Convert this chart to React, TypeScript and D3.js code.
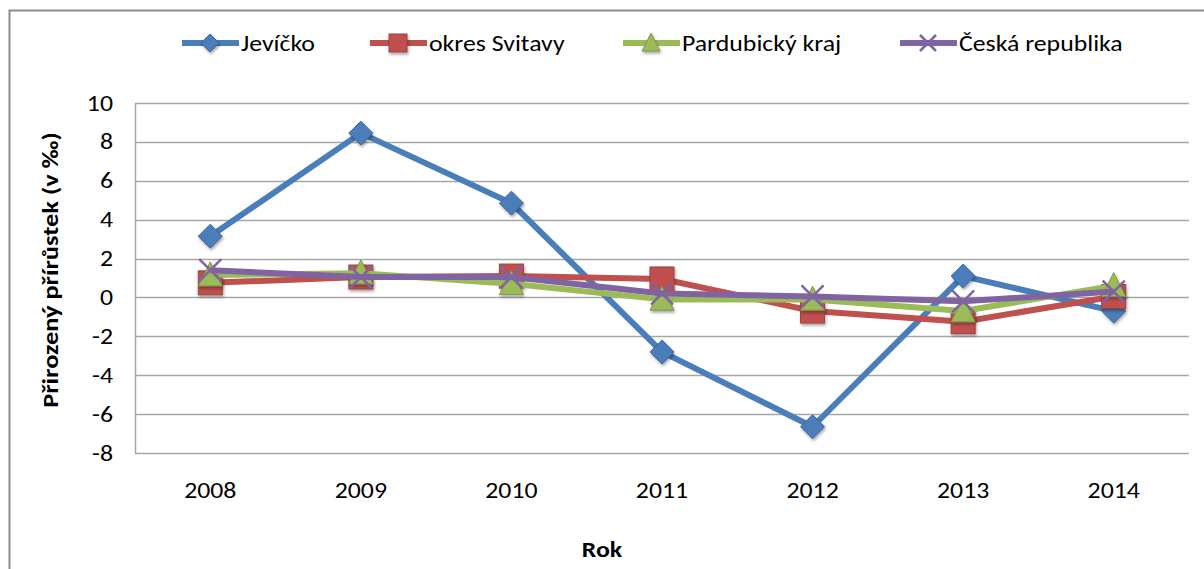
import { useEffect, useRef } from "react";
import * as d3 from "d3";

const years = ["2008", "2009", "2010", "2011", "2012", "2013", "2014"];
const jevicko = [3.15, 8.45, 4.85, -2.8, -6.65, 1.1, -0.7];
const svitavy = [0.75, 1.05, 1.1, 0.95, -0.7, -1.25, 0.05];
const pardubicky = [1.15, 1.25, 0.7, -0.1, -0.1, -0.7, 0.6];
const cesko = [1.4, 1.05, 1.05, 0.2, 0.05, -0.2, 0.3];
const yTicks = [10, 8, 6, 4, 2, 0, -2, -4, -6, -8];

const series = [
    { name: "Jevíčko", values: jevicko, color: "#4A7EBB", marker: "diamond" },
    { name: "okres Svitavy", values: svitavy, color: "#C0504D", marker: "square" },
    { name: "Pardubický kraj", values: pardubicky, color: "#9BBB59", marker: "triangle" },
    { name: "Česká republika", values: cesko, color: "#8064A2", marker: "x" },
];

const font = "Carlito, 'Liberation Sans Narrow', 'Open Sans', sans-serif";
const stretch = 1.2; // the reference text is rendered a bit wide

export default function App() {
    const ref = useRef<SVGSVGElement>(null);

    useEffect(() => {
        const width = 1204;
        const height = 569;
        const svg = d3.select(ref.current)
            .attr("width", width)
            .attr("height", height)
            .style("display", "block")
            .style("position", "absolute")
            .style("left", "0px")
            .style("top", "0px");

        svg.selectAll("*").remove();

        const defs = svg.append("defs");
        const f = defs.append("filter").attr("id", "shadow")
            .attr("x", "-50%").attr("y", "-50%").attr("width", "200%").attr("height", "200%");
        f.append("feDropShadow").attr("dx", 1).attr("dy", 2).attr("stdDeviation", 1.5)
            .attr("flood-color", "#000").attr("flood-opacity", 0.35);

        const label = (parent: any, tx: number, ty: number, txt: string, opts: { anchor?: string, bold?: boolean, size?: number, rotate?: number, dy?: string } = {}) =>
            parent.append("text")
                .attr("transform", `translate(${tx},${ty})${opts.rotate ? ` rotate(${opts.rotate})` : ""} scale(${stretch},1)`)
                .attr("text-anchor", opts.anchor || "start")
                .attr("dy", opts.dy || null)
                .attr("font-family", font)
                .attr("font-size", opts.size || 21.5)
                .attr("font-weight", opts.bold ? "bold" : null)
                .attr("fill", "#000")
                .text(txt);

        // chart frame
        svg.append("path")
            .attr("d", "M9.5,569 L9.5,10.5 L1204,10.5")
            .attr("fill", "none")
            .attr("stroke", "#8c8c8c")
            .attr("stroke-width", 2);

        const left = 135, right = 1189, top = 103, bottom = 453;

        const x = d3.scaleBand().domain(years).range([left, right]);
        const y = d3.scaleLinear().domain([-8, 10]).range([bottom, top]);

        // gridlines
        svg.append("g").selectAll("line")
            .data(yTicks)
            .join("line")
            .attr("x1", left)
            .attr("x2", right)
            .attr("y1", d => Math.round(y(d)) + 0.5)
            .attr("y2", d => Math.round(y(d)) + 0.5)
            .attr("stroke", "#a6a6a6")
            .attr("stroke-width", 1.5);

        // y axis line
        svg.append("line")
            .attr("x1", left + 0.5).attr("x2", left + 0.5)
            .attr("y1", top).attr("y2", bottom)
            .attr("stroke", "#a6a6a6").attr("stroke-width", 1.5);

        const yLab = svg.append("g");
        yTicks.forEach(t => label(yLab, 113, y(t), String(t), { anchor: "end", dy: "0.35em" }));

        const xLab = svg.append("g");
        years.forEach(yr => label(xLab, x(yr)! + x.bandwidth() / 2, 498, yr, { anchor: "middle" }));

        label(svg, 602, 557, "Rok", { anchor: "middle", bold: true });
        label(svg, 58, 270, "Přirozený přírůstek (v ‰)", { anchor: "middle", bold: true, rotate: -90, size: 22 });

        const line = d3.line<number>()
            .x((_, i) => x(years[i])! + x.bandwidth() / 2)
            .y(d => y(d));

        const drawMarker = (g: any, type: string, color: string, cx: number, cy: number, s: number) => {
            const dark = d3.color(color)!.darker(0.6).toString();
            if (type === "diamond") {
                g.append("path")
                    .attr("d", `M${cx},${cy - s} L${cx + s},${cy} L${cx},${cy + s} L${cx - s},${cy} Z`)
                    .attr("fill", color).attr("stroke", dark).attr("stroke-width", 1)
                    .attr("filter", "url(#shadow)");
            } else if (type === "square") {
                g.append("rect")
                    .attr("x", cx - s).attr("y", cy - s)
                    .attr("width", 2 * s).attr("height", 2 * s)
                    .attr("fill", color).attr("stroke", dark).attr("stroke-width", 1)
                    .attr("filter", "url(#shadow)");
            } else if (type === "triangle") {
                g.append("path")
                    .attr("d", `M${cx},${cy - s * 1.1} L${cx + s},${cy + s * 0.9} L${cx - s},${cy + s * 0.9} Z`)
                    .attr("fill", color).attr("stroke", dark).attr("stroke-width", 1)
                    .attr("filter", "url(#shadow)");
            } else {
                g.append("path")
                    .attr("d", `M${cx - s},${cy - s} L${cx + s},${cy + s} M${cx - s},${cy + s} L${cx + s},${cy - s}`)
                    .attr("stroke", color).attr("stroke-width", 2.5)
                    .attr("fill", "none");
            }
        };

        const sizes: Record<string, number> = { diamond: 12, square: 12, triangle: 12, x: 11 };

        series.forEach(s => {
            const g = svg.append("g");
            g.append("path")
                .datum(s.values)
                .attr("d", line)
                .attr("fill", "none")
                .attr("stroke", s.color)
                .attr("stroke-width", 6)
                .attr("stroke-linejoin", "round");
            s.values.forEach((v, i) => {
                drawMarker(g, s.marker, s.color, x(years[i])! + x.bandwidth() / 2, y(v), sizes[s.marker]);
            });
        });

        // legend
        const legendX = [182, 370, 623, 900];
        series.forEach((s, i) => {
            const g = svg.append("g").attr("transform", `translate(${legendX[i]},43)`);
            g.append("line")
                .attr("x1", 0).attr("x2", 57)
                .attr("stroke", s.color).attr("stroke-width", 6);
            drawMarker(g, s.marker, s.color, 28, 0, s.marker === "x" ? 8 : 9);
            label(g, 59, 0, s.name, { dy: "0.35em" });
        });
    }, []);

    return <svg ref={ref}></svg>;
}
